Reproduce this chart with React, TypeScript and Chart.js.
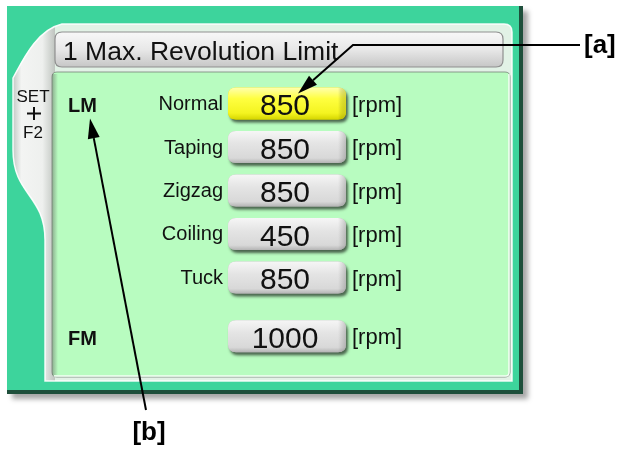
import React, { useEffect, useRef } from 'react';
import { Chart, registerables } from 'chart.js';

Chart.register(...registerables);

// ---- data ----
const rowLabels = ['Normal', 'Taping', 'Zigzag', 'Coiling', 'Tuck', ''];
const rowSlots = [0, 1, 2, 3, 4, 5.35];
const speeds = [850, 850, 850, 450, 850, 1000];
const groupLabels = ['LM', 'FM'];
const groupRowIndex = [0, 5];
const unitLabel = '[rpm]';
const highlightedRow = 0;
const titleText = '1 Max. Revolution Limit';
const tabText = ['SET', 'F2'];
const calloutA = '[a]';
const calloutB = '[b]';

const FONT = '"Liberation Sans", Arial, Helvetica, sans-serif';
const BTN_CX = 287;
const BTN_W = 118;

function roundRectPath(ctx: CanvasRenderingContext2D, x: number, y: number, w: number, h: number, r: number) {
  ctx.beginPath();
  ctx.moveTo(x + r, y);
  ctx.lineTo(x + w - r, y);
  ctx.quadraticCurveTo(x + w, y, x + w, y + r);
  ctx.lineTo(x + w, y + h - r);
  ctx.quadraticCurveTo(x + w, y + h, x + w - r, y + h);
  ctx.lineTo(x + r, y + h);
  ctx.quadraticCurveTo(x, y + h, x, y + h - r);
  ctx.lineTo(x, y + r);
  ctx.quadraticCurveTo(x, y, x + r, y);
  ctx.closePath();
}

function arrow(ctx: CanvasRenderingContext2D, pts: number[][]) {
  ctx.save();
  ctx.strokeStyle = '#000';
  ctx.fillStyle = '#000';
  ctx.lineWidth = 2;
  const n = pts.length;
  const [tx, ty] = pts[n - 1];
  const [px, py] = pts[n - 2];
  const ang = Math.atan2(ty - py, tx - px);
  const len = 20;
  const hw = 6;
  const bx = tx - Math.cos(ang) * len;
  const by = ty - Math.sin(ang) * len;
  ctx.beginPath();
  ctx.moveTo(pts[0][0], pts[0][1]);
  for (let i = 1; i < n - 1; i++) ctx.lineTo(pts[i][0], pts[i][1]);
  ctx.lineTo(bx, by);
  ctx.stroke();
  ctx.beginPath();
  ctx.moveTo(tx, ty);
  ctx.lineTo(bx + Math.sin(ang) * hw, by - Math.cos(ang) * hw);
  ctx.lineTo(bx - Math.sin(ang) * hw, by + Math.cos(ang) * hw);
  ctx.closePath();
  ctx.fill();
  ctx.restore();
}

function drawButton(ctx: CanvasRenderingContext2D, cx: number, cy: number, value: number, selected: boolean) {
  const x = cx - BTN_W / 2;
  const y = cy - 17;
  const h = 32;
  const r = 8;
  ctx.save();
  ctx.shadowColor = 'rgba(0,0,0,0.6)';
  ctx.shadowBlur = 3;
  ctx.shadowOffsetX = 2;
  ctx.shadowOffsetY = 3;
  roundRectPath(ctx, x, y, BTN_W, h, r);
  ctx.fillStyle = selected ? '#e0e000' : '#b8b8b8';
  ctx.fill();
  ctx.restore();
  const g = ctx.createLinearGradient(0, y, 0, y + h);
  if (selected) {
    g.addColorStop(0, '#ffffb0');
    g.addColorStop(0.35, '#ffff40');
    g.addColorStop(0.8, '#f4f420');
    g.addColorStop(1, '#d6d600');
  } else {
    g.addColorStop(0, '#f6f6f6');
    g.addColorStop(0.4, '#e4e4e4');
    g.addColorStop(0.85, '#d8d8d8');
    g.addColorStop(1, '#b4b4b4');
  }
  roundRectPath(ctx, x, y, BTN_W, h, r);
  ctx.fillStyle = g;
  ctx.fill();
  const gr = ctx.createLinearGradient(x + BTN_W - 8, 0, x + BTN_W, 0);
  gr.addColorStop(0, 'rgba(0,0,0,0)');
  gr.addColorStop(1, selected ? 'rgba(150,150,0,0.35)' : 'rgba(0,0,0,0.18)');
  roundRectPath(ctx, x, y, BTN_W, h, r);
  ctx.fillStyle = gr;
  ctx.fill();
  ctx.fillStyle = '#111';
  ctx.font = `30px ${FONT}`;
  ctx.textAlign = 'center';
  ctx.textBaseline = 'alphabetic';
  ctx.fillText(String(value), cx - 2, cy + 11);
}

const panelPlugin = {
  id: 'panel',
  beforeDraw(chart: any) {
    const ctx: CanvasRenderingContext2D = chart.ctx;
    ctx.save();
    ctx.save();
    ctx.shadowColor = 'rgba(0,0,0,0.35)';
    ctx.shadowBlur = 5;
    ctx.shadowOffsetX = 5;
    ctx.shadowOffsetY = 5;
    ctx.fillStyle = '#1e4f3b';
    ctx.fillRect(7, 6, 516, 388);
    ctx.restore();
    ctx.fillStyle = '#3dd49c';
    ctx.fillRect(7, 6, 512, 384);

    const framePath = () => {
      ctx.beginPath();
      ctx.moveTo(45, 381);
      ctx.lineTo(45, 240);
      ctx.bezierCurveTo(45, 195, 13, 195, 13, 150);
      ctx.lineTo(13, 78);
      ctx.bezierCurveTo(22, 62, 36, 30, 62, 24);
      ctx.lineTo(504, 24);
      ctx.quadraticCurveTo(512, 24, 512, 32);
      ctx.lineTo(512, 381);
      ctx.closePath();
    };
    framePath();
    ctx.fillStyle = '#e2f2e6';
    ctx.fill();
    ctx.save();
    framePath();
    ctx.clip();
    const tg = ctx.createLinearGradient(13, 0, 55, 0);
    tg.addColorStop(0, '#c4cac6');
    tg.addColorStop(0.2, '#f3f4f3');
    tg.addColorStop(0.7, '#eef0ee');
    tg.addColorStop(1, '#bfc4bf');
    ctx.fillStyle = tg;
    ctx.fillRect(13, 24, 42, 360);
    ctx.restore();
    framePath();
    ctx.strokeStyle = 'rgba(255,255,255,0.9)';
    ctx.lineWidth = 1.5;
    ctx.stroke();

    roundRectPath(ctx, 55, 32, 448, 35, 7);
    const tbg = ctx.createLinearGradient(0, 32, 0, 67);
    tbg.addColorStop(0, '#f8f8f8');
    tbg.addColorStop(0.5, '#e8e8e8');
    tbg.addColorStop(1, '#c6c6c6');
    ctx.fillStyle = tbg;
    ctx.fill();
    ctx.strokeStyle = '#8f8f8f';
    ctx.lineWidth = 1.2;
    ctx.stroke();
    ctx.fillStyle = '#111';
    ctx.font = `26.5px ${FONT}`;
    ctx.textAlign = 'left';
    ctx.textBaseline = 'alphabetic';
    ctx.fillText(titleText, 63, 60);

    roundRectPath(ctx, 52, 72, 458, 305, 5);
    ctx.fillStyle = '#b8fcc0';
    ctx.fill();
    ctx.strokeStyle = 'rgba(120,130,120,0.8)';
    ctx.lineWidth = 1;
    ctx.stroke();
    ctx.beginPath();
    ctx.moveTo(54, 376);
    ctx.lineTo(506, 376);
    ctx.quadraticCurveTo(509, 376, 509, 372);
    ctx.lineTo(509, 74);
    ctx.strokeStyle = 'rgba(255,255,255,0.85)';
    ctx.lineWidth = 1.5;
    ctx.stroke();
    const lg = ctx.createLinearGradient(52, 0, 58, 0);
    lg.addColorStop(0, 'rgba(110,120,110,0.6)');
    lg.addColorStop(1, 'rgba(110,120,110,0)');
    ctx.fillStyle = lg;
    ctx.fillRect(52, 74, 6, 301);

    ctx.fillStyle = '#111';
    ctx.textAlign = 'center';
    ctx.font = `17px ${FONT}`;
    ctx.fillText(tabText[0], 33, 102);
    ctx.fillText(tabText[1], 33, 138);
    ctx.strokeStyle = '#111';
    ctx.lineWidth = 2;
    ctx.beginPath();
    ctx.moveTo(27, 113.5);
    ctx.lineTo(41, 113.5);
    ctx.moveTo(34, 107);
    ctx.lineTo(34, 120);
    ctx.stroke();
    ctx.restore();
  },
  afterDatasetsDraw(chart: any) {
    const ctx: CanvasRenderingContext2D = chart.ctx;
    const meta = chart.getDatasetMeta(0);
    ctx.save();
    meta.data.forEach((el: any, i: number) => {
      drawButton(ctx, BTN_CX, el.y, speeds[i], i === highlightedRow);
      ctx.fillStyle = '#111';
      ctx.font = `22px ${FONT}`;
      ctx.textAlign = 'left';
      ctx.textBaseline = 'middle';
      ctx.fillText(unitLabel, 352, el.y + 1);
    });
    groupLabels.forEach((g, k) => {
      const y = meta.data[groupRowIndex[k]].y;
      ctx.fillStyle = '#111';
      ctx.font = `bold 20px ${FONT}`;
      ctx.textAlign = 'left';
      ctx.textBaseline = 'alphabetic';
      ctx.fillText(g, 68, y + 8);
    });
    const y0 = meta.data[highlightedRow].y;
    arrow(ctx, [[580, 45], [353, 45], [298, y0 - 11]]);
    ctx.fillStyle = '#000';
    ctx.font = `bold 26px ${FONT}`;
    ctx.textAlign = 'left';
    ctx.textBaseline = 'middle';
    ctx.fillText(calloutA, 584, 46);
    arrow(ctx, [[146, 410], [90, y0 + 14]]);
    ctx.textAlign = 'center';
    ctx.fillText(calloutB, 149, 433);
    ctx.restore();
  },
};

export default function App() {
  const ref = useRef<HTMLCanvasElement | null>(null);
  useEffect(() => {
    if (!ref.current) return;
    const chart = new Chart(ref.current, {
      type: 'scatter',
      data: {
        datasets: [
          {
            label: 'Max. revolution',
            data: rowSlots.map((s) => ({ x: 0, y: s })),
            pointRadius: 0,
            showLine: false,
          },
        ],
      },
      options: {
        animation: false,
        responsive: true,
        maintainAspectRatio: false,
        devicePixelRatio: 1,
        events: [],
        layout: { padding: 0 },
        plugins: { legend: { display: false }, tooltip: { enabled: false } },
        scales: {
          x: { type: 'linear', display: false, min: -1, max: 1 },
          y: {
            type: 'linear',
            reverse: true,
            min: -2.402,
            max: 7.943,
            afterBuildTicks: (s: any) => {
              s.ticks = rowSlots.map((v) => ({ value: v }));
            },
            afterFit: (s: any) => {
              s.width = 226;
              s.paddingTop = 0;
              s.paddingBottom = 0;
            },
            ticks: {
              autoSkip: false,
              padding: 3,
              color: '#111',
              font: { family: FONT, size: 20 },
              callback: (v: any) => rowLabels[rowSlots.indexOf(Number(v))] ?? '',
            },
            grid: { display: false, drawTicks: false },
            border: { display: false },
          },
        },
      },
      plugins: [panelPlugin],
    } as any);
    return () => chart.destroy();
  }, []);
  return (
    <div style={{ position: 'fixed', left: 0, top: 0, width: 623, height: 450, background: '#fff' }}>
      <canvas ref={ref} />
    </div>
  );
}
